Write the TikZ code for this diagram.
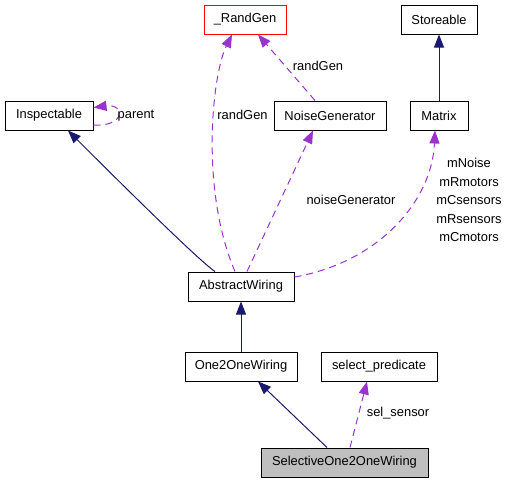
\documentclass[tikz,border=0pt]{standalone}
\usepackage{fontspec}
\setmainfont{Liberation Sans}
\usepackage{tikz}
\usetikzlibrary{arrows.meta}
\definecolor{navy}{HTML}{191970}
\definecolor{orchid}{HTML}{9A32CD}
\definecolor{selgray}{HTML}{BFBFBF}

\begin{document}
\begin{tikzpicture}[x=1pt, y=1pt,
    every node/.style={font=\fontsize{12.9}{18.5}\selectfont},
    cls/.style={draw, line width=1pt, minimum height=29pt, inner sep=0pt},
    inherit/.style={draw=navy, line width=1pt, -{Triangle[length=13pt, width=10pt]}},
    usage/.style={draw=orchid, line width=1pt, dash pattern=on 7pt off 5pt, -{Triangle[length=13pt, width=10pt]}}]
    \useasboundingbox (0,0) rectangle (508,-483);

    \node[cls, minimum width=82pt, draw=red] (RandGen) at (245,-19.5) {\_RandGen};
    \node[cls, minimum width=76pt] (Storeable) at (439,-19.5) {Storeable};
    \node[cls, minimum width=88pt] (Inspectable) at (49,-115.5) {Inspectable};
    \node[cls, minimum width=112pt] (NoiseGen) at (330,-115.5) {NoiseGenerator};
    \node[cls, minimum width=58pt] (Matrix) at (439,-115.5) {Matrix};
    \node[cls, minimum width=106pt] (AbstractWiring) at (241,-286.5) {AbstractWiring};
    \node[cls, minimum width=112pt] (One2One) at (241,-366.5) {One2OneWiring};
    \node[cls, minimum width=116pt] (SelPred) at (379,-366.5) {select\_predicate};
    \node[cls, minimum width=167pt, fill=selgray] (Selective) at (344.5,-462.5) {SelectiveOne2OneWiring};

    \draw[inherit] (Matrix) -- (Storeable);
    \draw[inherit] ([xshift=-26pt]AbstractWiring.north) .. controls +(-15,10) and +(60,-60) .. ([xshift=19pt]Inspectable.south);
    \draw[inherit] (One2One) -- (AbstractWiring);
    \draw[inherit] ([xshift=-17.5pt]Selective.north) -- ([xshift=17pt]One2One.south);

    \draw[usage] ([yshift=-9.5pt]Inspectable.east) .. controls +(32,-2) and +(32,4) .. ([yshift=8pt]Inspectable.east)
        node (lParent) at (136,-115.5) {parent};
    \draw[usage] ([xshift=-6pt]AbstractWiring.north) .. controls (200,-190) and (212,-75) .. ([xshift=-13pt]RandGen.south)
        node (lRandGenA) at (242.5,-115) {randGen};
    \draw[usage] ([xshift=-15pt]NoiseGen.north) -- ([xshift=13pt]RandGen.south)
        node (lRandGenB) at (318,-66) {randGen};
    \draw[usage] ([xshift=6pt]AbstractWiring.north) -- ([xshift=-17pt]NoiseGen.south)
        node (lNoise) at (351,-200) {noiseGenerator};
    \draw[usage] ([yshift=9.5pt]AbstractWiring.east) .. controls (380,-262) and (432,-200) .. ([xshift=-4pt]Matrix.south)
        node[align=center] (lMatrix) at (469,-200) {mNoise\\mRmotors\\mCsensors\\mRsensors\\mCmotors};
    \draw[usage] ([xshift=5.5pt]Selective.north) -- ([xshift=-12pt]SelPred.south)
        node (lSel) at (398,-413) {sel\_sensor};
\end{tikzpicture}
\end{document}
